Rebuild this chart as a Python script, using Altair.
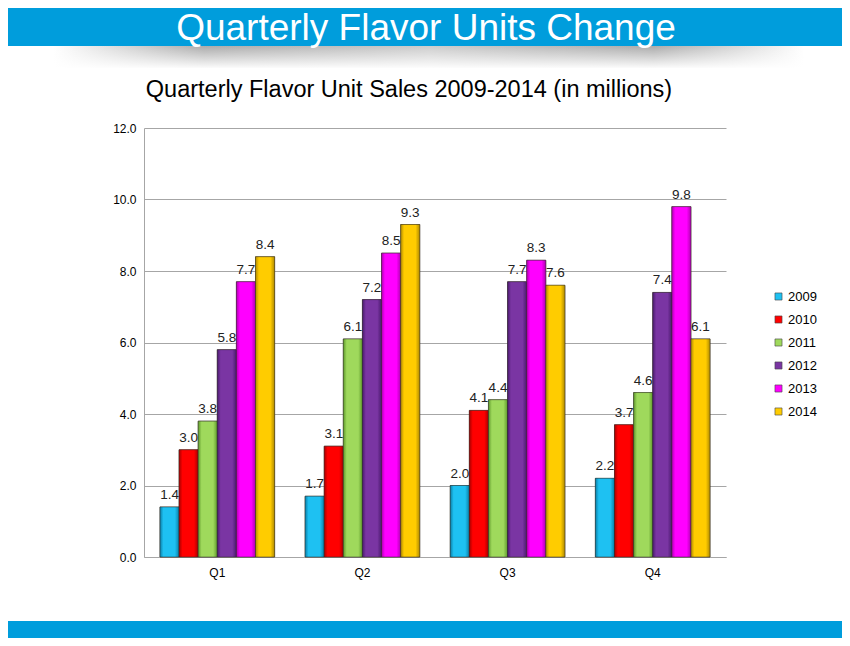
import altair as alt
import pandas as pd

quarters = ["Q1", "Q2", "Q3", "Q4"]
years = ["2009", "2010", "2011", "2012", "2013", "2014"]
v2009 = [1.4, 1.7, 2.0, 2.2]
v2010 = [3.0, 3.1, 4.1, 3.7]
v2011 = [3.8, 6.1, 4.4, 4.6]
v2012 = [5.8, 7.2, 7.7, 7.4]
v2013 = [7.7, 8.5, 8.3, 9.8]
v2014 = [8.4, 9.3, 7.6, 6.1]
colors = ["#1ec1f2", "#ff0000", "#9fd95c", "#7a35a3", "#ff00ff", "#ffcc00"]
edge_colors = ["#0a7fa8", "#a80000", "#5f9a2c", "#4a1a6e", "#b000b0", "#b08a00"]
y_ticks = [0, 2, 4, 6, 8, 10, 12]

banner_title = "Quarterly Flavor Units Change"
chart_title = "Quarterly Flavor Unit Sales 2009-2014 (in millions)"

series = [v2009, v2010, v2011, v2012, v2013, v2014]
rows = []
for yr, vals in zip(years, series):
    for q, v in zip(quarters, vals):
        rows.append({"quarter": q, "year": yr, "value": v})
df = pd.DataFrame(rows)
one = pd.DataFrame({"k": [0]})

FONT = "Liberation Sans"
BLUE = "#009ddc"

x_enc = alt.X("quarter:N", sort=quarters,
              scale=alt.Scale(paddingInner=0.21, paddingOuter=0.11),
              axis=alt.Axis(title=None, labelAngle=0, ticks=False, labelPadding=10,
                            labelFontSize=12, labelColor="#000", labelFont=FONT,
                            domainColor="#a6a6a6", grid=False))
xo_enc = alt.XOffset("year:N", sort=years, scale=alt.Scale(paddingInner=0.0))
y_enc = alt.Y("value:Q", scale=alt.Scale(domain=[0, 12]),
              axis=alt.Axis(values=y_ticks, format=".1f", title=None, ticks=False,
                            labelPadding=8, labelFontSize=12, labelColor="#000",
                            labelFont=FONT, gridColor="#a6a6a6", domainColor="#a6a6a6"))

bars = alt.Chart(df).mark_bar(stroke="#3a2a10", strokeWidth=0.8, strokeOpacity=0.7).encode(
    x=x_enc, xOffset=xo_enc, y=y_enc,
    color=alt.Color("year:N", sort=years, scale=alt.Scale(domain=years, range=colors),
                    legend=alt.Legend(title=None, orient="none", legendX=628, legendY=162,
                                      symbolType="square", symbolSize=50,
                                      labelFontSize=13, labelFont=FONT, labelColor="#000",
                                      rowPadding=9, padding=0, labelOffset=3,
                                      symbolStrokeColor="#444", symbolStrokeWidth=0.6)),
)

shade_layers = []
for yr, c, e in zip(years, colors, edge_colors):
    grad = alt.Gradient(gradient="linear", x1=0, x2=1, y1=0, y2=0,
                        stops=[alt.GradientStop(color=e, offset=0),
                               alt.GradientStop(color=c, offset=0.18),
                               alt.GradientStop(color=c, offset=0.78),
                               alt.GradientStop(color=e, offset=1)])
    shade_layers.append(
        alt.Chart(df).transform_filter(alt.datum.year == yr).mark_bar(
            color=grad, stroke="#2a2a2a", strokeWidth=0.8, strokeOpacity=0.6).encode(
            x=alt.X("quarter:N", sort=quarters),
            xOffset=alt.XOffset("year:N", sort=years),
            y="value:Q")
    )

labels = alt.Chart(df).mark_text(baseline="bottom", dy=-5, fontSize=13.5, font=FONT,
                                 color="#222").encode(
    x=alt.X("quarter:N", sort=quarters), xOffset=alt.XOffset("year:N", sort=years),
    y="value:Q", text=alt.Text("value:Q", format=".1f"),
)

# decorative banners
top_band = alt.Chart(one).mark_rect(color=BLUE).encode(
    x=alt.value(-136), x2=alt.value(698), y=alt.value(-120), y2=alt.value(-82))
shadow = alt.Chart(one).mark_rect(color=alt.Gradient(
    gradient="linear", x1=0, x2=1, y1=0, y2=0,
    stops=[alt.GradientStop(color="#ffffff", offset=0),
           alt.GradientStop(color="#ababab", offset=0.2),
           alt.GradientStop(color="#cdcdcd", offset=0.5),
           alt.GradientStop(color="#ababab", offset=0.8),
           alt.GradientStop(color="#ffffff", offset=1)])).encode(
    x=alt.value(-90), x2=alt.value(660), y=alt.value(-82), y2=alt.value(-60))
shadow_fade = alt.Chart(one).mark_rect(color=alt.Gradient(
    gradient="linear", x1=0, x2=0, y1=0, y2=1,
    stops=[alt.GradientStop(color="rgba(255,255,255,0)", offset=0),
           alt.GradientStop(color="rgba(255,255,255,1)", offset=1)])).encode(
    x=alt.value(-90), x2=alt.value(660), y=alt.value(-82), y2=alt.value(-59))
bottom_band = alt.Chart(one).mark_rect(color=BLUE).encode(
    x=alt.value(-136), x2=alt.value(698), y=alt.value(493), y2=alt.value(512))

banner_text = alt.Chart(one).mark_text(text=banner_title, font=FONT, fontSize=37,
                                       color="white", baseline="middle",
                                       align="center").encode(
    x=alt.value(282), y=alt.value(-99))
title_text = alt.Chart(one).mark_text(text=chart_title, font=FONT, fontSize=23.5,
                                      color="#000", baseline="middle",
                                      align="center").encode(
    x=alt.value(265), y=alt.value(-38))

chart = alt.layer(top_band, shadow, shadow_fade, bottom_band, banner_text, title_text,
                  bars, *shade_layers, labels).properties(
    width=582, height=429,
    autosize=alt.AutoSizeParams(type="none"),
    padding={"left": 136, "top": 120, "right": 116, "bottom": 81},
    background="white",
).configure_view(stroke=None)

chart.save("out.html", embed_options={"renderer": "svg", "actions": False})
